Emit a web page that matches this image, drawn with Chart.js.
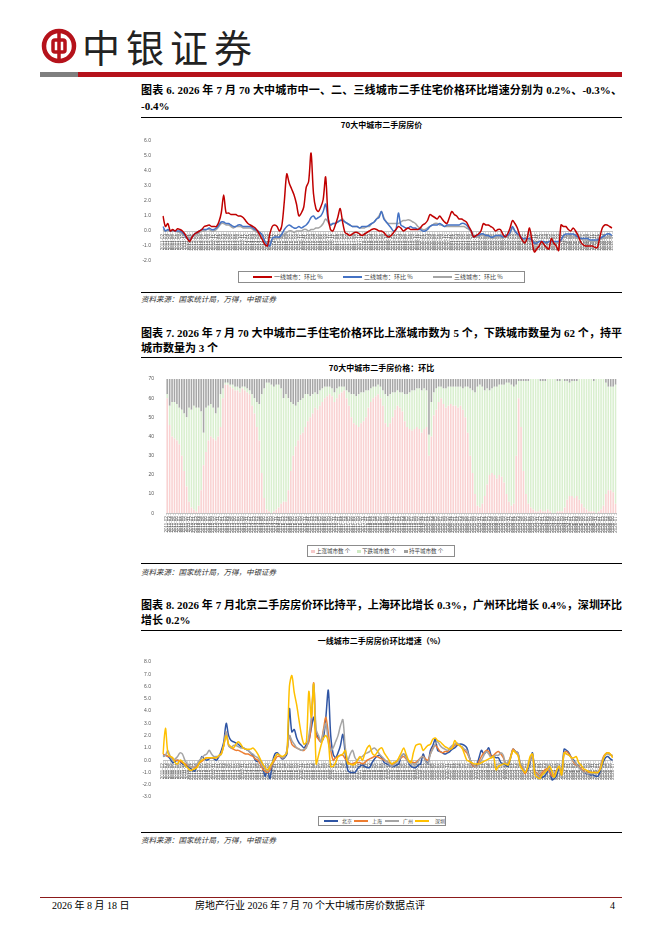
<!DOCTYPE html>
<html>
<head>
<meta charset="utf-8">
<script src="https://cdn.jsdelivr.net/npm/chart.js@4.4.1/dist/chart.umd.min.js"></script>
<style>
  body { margin: 0; width: 662px; height: 936px; background: #fff; position: relative; overflow: hidden;
         font-family: "Liberation Serif", "Noto Sans CJK SC", serif; color: #000; }
  .abs { position: absolute; }
  .ttl { position: absolute; left: 141px; width: 481px; font-size: 11px; font-weight: bold; line-height: 14px; white-space: nowrap; }
  .just { text-align: justify; text-align-last: justify; }
  .rule { position: absolute; left: 141px; width: 481px; height: 1px; background: #000; }
  .ctitle { position: absolute; left: 141px; width: 481px; text-align: center; font-family: "Noto Sans CJK SC"; font-weight: bold; font-size: 8px; line-height: 10px; }
  .src { position: absolute; left: 141px; font-family: "Noto Sans CJK SC"; font-size: 7.5px; line-height: 9px; font-style: italic; color: #333; }
  .lg { position: absolute; border: 1px solid #8c8c8c; box-sizing: border-box; font-family: "Noto Sans CJK SC"; color: #404040; white-space: nowrap; }
  .lg span { position: absolute; top: 0; }
  .lg .key { position: absolute; display: block; }
  canvas { position: absolute; }
</style>
</head>
<body>

<svg class="abs" style="left:39px;top:26px" width="40" height="40" viewBox="0 0 40 40">
  <circle cx="20" cy="20" r="15" fill="none" stroke="#b5121b" stroke-width="4.5"/>
  <rect x="14" y="14" width="12" height="12" rx="2" fill="none" stroke="#b5121b" stroke-width="3.5"/>
  <line x1="20" y1="4" x2="20" y2="36" stroke="#b5121b" stroke-width="3.5"/>
</svg>
<div class="abs" style="left:82px;top:25px;font-family:'Noto Sans CJK SC';font-size:38px;line-height:42px;letter-spacing:6px;color:#222">中银证券</div>
<div class="abs" style="left:40px;top:72px;width:38px;height:5px;background:#7f7f7f"></div>
<div class="abs" style="left:78px;top:72px;width:544px;height:5px;background:#b5121b"></div>

<!-- figure 6 -->
<div class="ttl just" style="top:83px">图表 6. 2026 年 7 月 70 大中城市中一、二、三线城市二手住宅价格环比增速分别为 0.2%、-0.3%、</div>
<div class="ttl" style="top:99px">-0.4%</div>
<div class="rule" style="top:117px"></div>
<div class="ctitle" style="top:120px">70大中城市二手房房价</div>
<canvas id="tierChart" width="481" height="134" style="left:141px;top:134px;width:481px;height:134px"></canvas>
<div class="lg" style="left:238px;top:271px;width:287px;height:12px;font-size:6px;line-height:10px">
  <div class="key" style="left:14px;top:4px;width:19px;height:2px;background:#c00000"></div><span style="left:35px">一线城市：环比 %</span>
  <div class="key" style="left:104px;top:4px;width:19px;height:2px;background:#4472c4"></div><span style="left:125px">二线城市：环比 %</span>
  <div class="key" style="left:194px;top:4px;width:19px;height:2px;background:#a5a5a5"></div><span style="left:215px">三线城市：环比 %</span>
</div>
<div class="rule" style="top:292px"></div>
<div class="src" style="top:294px">资料来源：国家统计局，万得，中银证券</div>

<!-- figure 7 -->
<div class="ttl just" style="top:326px">图表 7. 2026 年 7 月 70 大中城市二手住宅价格环比上涨城市数为 5 个，下跌城市数量为 62 个，持平</div>
<div class="ttl" style="top:341px">城市数量为 3 个</div>
<div class="rule" style="top:357px"></div>
<div class="ctitle" style="top:363px">70大中城市二手房价格：环比</div>
<canvas id="countChart" width="481" height="166" style="left:141px;top:372px;width:481px;height:166px"></canvas>
<div class="lg" style="left:307px;top:545px;width:148px;height:12px;font-size:5.5px;line-height:10px">
  <div class="key" style="left:3px;top:3.5px;width:3.5px;height:3.5px;background:#f7c9c9"></div><span style="left:8px">上涨城市数 个</span>
  <div class="key" style="left:49px;top:3.5px;width:3.5px;height:3.5px;background:#cfeac4"></div><span style="left:54px">下跌城市数 个</span>
  <div class="key" style="left:96px;top:3.5px;width:3.5px;height:3.5px;background:#9f9f9f"></div><span style="left:101px">持平城市数 个</span>
</div>
<div class="rule" style="top:563px"></div>
<div class="src" style="top:567px">资料来源：国家统计局，万得，中银证券</div>

<!-- figure 8 -->
<div class="ttl just" style="top:598px">图表 8. 2026 年 7 月北京二手房房价环比持平，上海环比增长 0.3%，广州环比增长 0.4%，深圳环比</div>
<div class="ttl" style="top:613px">增长 0.2%</div>
<div class="rule" style="top:630px"></div>
<div class="ctitle" style="top:636px">一线城市二手房房价环比增速（%）</div>
<canvas id="cityChart" width="481" height="149" style="left:141px;top:655px;width:481px;height:149px"></canvas>
<div class="lg" style="left:318px;top:816px;width:128px;height:10px;font-size:5px;line-height:8px">
  <div class="key" style="left:5px;top:3px;width:14px;height:1.8px;background:#2f55a4"></div><span style="left:23px">北京</span>
  <div class="key" style="left:35px;top:3px;width:14px;height:1.8px;background:#ed7d31"></div><span style="left:53px">上海</span>
  <div class="key" style="left:66px;top:3px;width:14px;height:1.8px;background:#a5a5a5"></div><span style="left:84px">广州</span>
  <div class="key" style="left:96px;top:3px;width:14px;height:1.8px;background:#ffc000"></div><span style="left:116px">深圳</span>
</div>
<div class="rule" style="top:832px"></div>
<div class="src" style="top:835px">资料来源：国家统计局，万得，中银证券</div>

<!-- footer -->
<div class="abs" style="left:40px;top:897px;width:582px;height:1px;background:#8b1a1a"></div>
<div class="abs" style="left:52px;top:899px;font-size:10px;line-height:14px">2026 年 8 月 18 日</div>
<div class="abs" style="left:195px;top:899px;font-size:10px;line-height:14px">房地产行业 2026 年 7 月 70 个大中城市房价数据点评</div>
<div class="abs" style="left:610px;top:899px;font-size:10px;line-height:14px">4</div>

<script>
// monthly categories, 2011-02 .. 2026-07
const startYear = 2011, startMonth = 2, monthCount = 186;
const months = [];
for (let i = 0; i < monthCount; i++) {
  const k = startMonth - 1 + i;
  const y = startYear + Math.floor(k / 12);
  const m = (k % 12) + 1;
  months.push(y + '-' + (m < 10 ? '0' + m : m));
}

// figure 6: 70 cities, tier 1/2/3 second-hand price, m-o-m %
const tier1 = [
  1.0, 0.3, 0.5, 0.0, 0.1, 0.0, 0.15, 0.1, 0.0, -0.2, -0.5,
  -0.7, -0.4, -0.2, -0.1, 0.0, 0.1, 0.3, 0.35, 0.4, 0.3, 0.3, 0.3,
  0.6, 1.2, 2.4, 1.2, 1.2, 1.1, 1.1, 1.1, 1.0, 1.0, 0.9, 0.7,
  0.5, 0.4, 0.3, 0.2, 0.0, -0.3, -0.6, -0.9, -1.0, -0.2, 0.3, 0.4,
  0.3, 0.0, 0.4, 2.0, 3.8, 3.2, 2.8, 2.4, 1.8, 1.0, 1.2, 1.6,
  2.9, 3.3, 5.2, 2.5, 1.5, 1.3, 1.6, 2.1, 3.6, 1.0, 0.1, 0.0,
  0.4, 0.9, 1.5, 0.6, -0.1, -0.2, -0.3, -0.2, -0.1, -0.1, -0.2, -0.3,
  -0.2, -0.1, 0.0, 0.1, 0.15, 0.1, 0.0, 0.0, -0.1, -0.3, -0.4, -0.3,
  -0.1, 0.1, 0.3, 0.2, 0.0, 0.1, 0.2, 0.1, 0.1, 0.1, 0.1, 0.2,
  0.4, 0.5, 0.7, 1.1, 1.0, 0.9, 0.8, 1.0, 0.8, 0.6, 0.5, 0.9,
  1.3, 1.1, 1.0, 0.8, 0.8, 0.7, 0.6, 0.3, 0.0, -0.4, -0.3, -0.2,
  0.0, 0.5, 0.4, 0.4, 0.3, 0.2, 0.0, 0.1, 0.1, -0.2, -0.4, -0.2,
  0.2, 0.7, 0.5, 0.2, -0.3, -0.6, -0.8, -0.5, 0.2, -0.6, -1.4, -1.2,
  -1.0, -0.7, -0.9, -1.1, -1.2, -0.5, -0.8, -1.0, -1.3, 0.4, 0.3, 0.3,
  0.1, 0.0, 0.2, 0.0, -0.3, -0.7, -0.9, -1.0, -1.0, -1.0, -1.0, -1.1,
  -1.1, -0.4, 0.2, 0.4, 0.4, 0.3, 0.2
];
const tier2 = [
  0.3, 0.0, 0.1, 0.0, 0.05, 0.0, 0.0, 0.0, -0.1, -0.3, -0.5,
  -0.6, -0.4, -0.2, -0.1, 0.0, 0.1, 0.1, 0.1, 0.2, 0.1, 0.1, 0.2,
  0.4, 0.6, 0.6, 0.5, 0.5, 0.4, 0.3, 0.3, 0.4, 0.4, 0.3, 0.3,
  0.3, 0.3, 0.2, 0.1, 0.0, -0.1, -0.3, -0.7, -0.9, -1.0, -0.5, -0.4,
  -0.4, -0.4, -0.2, 0.1, 0.3, 0.4, 0.3, 0.2, 0.2, 0.3, 0.2, 0.3,
  0.4, 0.6, 0.9, 1.0, 0.8, 0.9, 1.0, 1.3, 1.8, 0.8, 0.4, 0.5,
  0.5, 0.6, 0.7, 0.7, 0.6, 0.5, 0.4, 0.3, 0.3, 0.3, 0.2, 0.3,
  0.3, 0.3, 0.4, 0.5, 0.6, 0.8, 0.9, 1.3, 0.8, 0.6, 0.4, 0.2,
  0.0, 0.1, 1.2, 0.4, 0.3, 0.2, 0.2, 0.3, 0.2, 0.2, 0.1, 0.1,
  0.0, 0.0, 0.1, 0.3, 0.4, 0.4, 0.4, 0.5, 0.4, 0.3, 0.4, 0.4,
  0.4, 0.4, 0.4, 0.4, 0.5, 0.5, 0.4, 0.2, 0.0, -0.4, -0.3, -0.3,
  -0.2, -0.2, -0.3, -0.3, -0.4, -0.4, -0.3, -0.3, -0.3, -0.4, -0.3, -0.3,
  -0.1, 0.3, 0.0, -0.2, -0.3, -0.5, -0.5, -0.5, -0.5, -0.6, -0.8, -0.8,
  -0.7, -0.7, -0.7, -0.8, -0.7, -0.7, -0.7, -0.7, -0.7, -0.6, -0.3, -0.2,
  -0.2, -0.2, -0.2, -0.3, -0.4, -0.5, -0.5, -0.5, -0.5, -0.6, -0.6, -0.6,
  -0.6, -0.5, -0.4, -0.3, -0.2, -0.2, -0.3
];
const tier3 = [
  0.1, 0.0, 0.05, 0.0, 0.0, 0.0, -0.05, -0.1, -0.2, -0.3, -0.4,
  -0.5, -0.4, -0.3, -0.2, -0.1, 0.0, 0.0, 0.1, 0.1, 0.0, 0.0, 0.1,
  0.3, 0.5, 0.5, 0.4, 0.4, 0.3, 0.2, 0.3, 0.3, 0.3, 0.2, 0.2,
  0.2, 0.2, 0.1, 0.0, -0.1, -0.2, -0.4, -0.7, -0.9, -0.9, -0.6, -0.5,
  -0.5, -0.5, -0.4, -0.2, -0.1, 0.0, 0.0, -0.1, 0.0, 0.0, 0.0, 0.1,
  0.1, 0.0, 0.1, 0.1, 0.2, 0.2, 0.3, 0.5, 0.8, 0.6, 0.4, 0.5,
  0.5, 0.6, 0.7, 0.8, 0.6, 0.5, 0.4, 0.3, 0.3, 0.3, 0.2, 0.2,
  0.2, 0.3, 0.3, 0.5, 0.6, 0.8, 1.0, 1.3, 0.9, 0.6, 0.5, 0.5,
  0.5, 0.5, 0.5, 0.6, 0.7, 0.7, 0.75, 0.7, 0.6, 0.5, 0.3, 0.2,
  0.1, 0.1, 0.2, 0.3, 0.4, 0.5, 0.5, 0.4, 0.4, 0.3, 0.3, 0.3,
  0.3, 0.3, 0.3, 0.3, 0.3, 0.3, 0.2, 0.1, -0.1, -0.4, -0.4, -0.4,
  -0.3, -0.3, -0.4, -0.4, -0.4, -0.5, -0.4, -0.4, -0.4, -0.5, -0.4, -0.4,
  -0.2, 0.2, 0.0, -0.2, -0.4, -0.5, -0.6, -0.6, -0.6, -0.6, -0.8, -0.8,
  -0.7, -0.7, -0.8, -0.8, -0.7, -0.7, -0.8, -0.8, -0.7, -0.6, -0.4, -0.4,
  -0.3, -0.4, -0.4, -0.4, -0.5, -0.5, -0.6, -0.6, -0.6, -0.7, -0.7, -0.7,
  -0.7, -0.6, -0.5, -0.5, -0.4, -0.4, -0.4
];

// figure 7: number of cities rising / falling / flat
const upCount = [
  60, 46, 40, 39, 38, 36, 30, 22, 14, 6, 3,
  2, 1, 4, 12, 25, 32, 38, 40, 39, 38, 40, 45,
  60, 67, 67, 66, 65, 64, 64, 63, 65, 64, 63, 62,
  56, 52, 45, 38, 21, 8, 2, 1, 0, 1, 2, 3,
  5, 6, 6, 12, 22, 30, 35, 38, 41, 42, 45, 48,
  50, 52, 55, 54, 56, 58, 60, 61, 62, 61, 58, 60,
  62, 63, 64, 60, 56, 50, 47, 46, 45, 47, 48, 50,
  55, 58, 60, 61, 62, 60, 56, 47, 45, 47, 50, 54,
  56, 55, 53, 48, 45, 44, 43, 44, 45, 44, 42, 44,
  45, 30, 40, 51, 54, 58, 60, 57, 55, 56, 57, 56,
  56, 55, 56, 54, 50, 42, 30, 21, 10, 4, 3, 5,
  9, 15, 20, 21, 20, 18, 20, 19, 16, 10, 6, 4,
  5, 30, 60, 45, 22, 10, 5, 3, 2, 1, 1, 2,
  1, 1, 2, 1, 0, 0, 1, 1, 1, 3, 7, 9,
  9, 8, 9, 7, 5, 3, 2, 1, 1, 1, 0, 1,
  2, 4, 10, 12, 12, 11, 5
];
const downCount = [
  2, 10, 18, 19, 19, 19, 24, 30, 36, 49, 51,
  54, 54, 51, 41, 17, 23, 18, 17, 16, 14, 15, 17,
  5, 1, 1, 1, 2, 2, 2, 2, 1, 2, 2, 2,
  6, 8, 13, 19, 41, 57, 66, 67, 67, 65, 65, 64,
  60, 54, 56, 48, 36, 27, 21, 20, 18, 18, 17, 14,
  11, 10, 8, 8, 8, 7, 6, 5, 4, 4, 5, 5,
  4, 3, 2, 4, 7, 12, 15, 15, 17, 16, 15, 14,
  9, 7, 6, 5, 5, 6, 8, 15, 16, 15, 13, 9,
  8, 8, 10, 14, 17, 19, 21, 20, 20, 21, 22, 21,
  19, 11, 18, 12, 11, 8, 6, 8, 10, 10, 9, 10,
  10, 11, 10, 11, 16, 24, 35, 43, 53, 62, 64, 61,
  55, 50, 44, 44, 46, 48, 47, 48, 51, 58, 62, 63,
  61, 37, 9, 24, 47, 59, 64, 67, 68, 69, 69, 67,
  68, 68, 68, 69, 70, 70, 68, 68, 69, 66, 62, 59,
  60, 61, 60, 63, 65, 67, 68, 69, 69, 68, 70, 69,
  68, 66, 58, 54, 54, 55, 62
];
const flatCount = [
  8, 14, 12, 12, 13, 15, 16, 18, 20, 15, 16,
  14, 15, 15, 17, 28, 15, 14, 13, 15, 18, 15, 8,
  5, 2, 2, 3, 3, 4, 4, 5, 4, 4, 5, 6,
  8, 10, 12, 13, 8, 5, 2, 2, 3, 4, 3, 3,
  5, 10, 8, 10, 12, 13, 14, 12, 11, 10, 8, 8,
  9, 8, 7, 8, 6, 5, 4, 4, 4, 5, 7, 5,
  4, 4, 4, 6, 7, 8, 8, 9, 8, 7, 7, 6,
  6, 5, 4, 4, 3, 4, 6, 8, 9, 8, 7, 7,
  6, 7, 7, 8, 8, 7, 6, 6, 5, 5, 6, 5,
  6, 29, 12, 7, 5, 4, 4, 5, 5, 4, 4, 4,
  4, 4, 4, 5, 4, 4, 5, 6, 7, 4, 3, 4,
  6, 5, 6, 5, 4, 4, 3, 3, 3, 2, 2, 3,
  4, 3, 1, 1, 1, 1, 1, 0, 0, 0, 0, 1,
  1, 1, 0, 0, 0, 0, 1, 1, 0, 1, 1, 2,
  1, 1, 1, 0, 0, 0, 0, 0, 0, 1, 0, 0,
  0, 0, 2, 4, 4, 4, 3
];

// figure 8: first-tier cities, m-o-m %
const beijing = [
  0.3, 0.4, 0.3, 0.1, -0.2, -0.1, 0.0, -0.1, -0.3, -0.4, -0.5,
  -0.6, -0.8, -0.9, -0.5, -0.2, 0.3, 0.1, 0.0, 0.1, 0.2, 0.1, 0.0,
  0.3, 0.8, 1.5, 3.0, 2.0, 1.6, 1.5, 1.4, 1.3, 1.1, 1.0, 0.9,
  0.8, 0.6, 0.4, 0.0, -0.1, 0.0, -0.5, -1.3, -0.8, -1.5, -0.2, 0.5,
  0.6, 0.4, 0.1, 0.2, 0.5, 4.2, 2.3, 2.5, 1.8, 1.4, 1.2, 1.0,
  1.3, 1.6, 2.6, 3.5, 2.2, 1.8, 1.5, 1.8, 3.5, 5.7, 2.0, 0.5,
  0.2, 0.6, 1.2, 2.1, 0.5, -0.8, -1.0, -1.0, -1.0, -0.7, -0.5, -0.4,
  -0.5, -0.6, -0.6, -0.2, 0.1, 0.3, 0.4, 0.2, -0.2, -0.3, -0.4, -0.5,
  -0.5, -0.4, -0.3, 0.3, 0.5, 0.3, -0.2, -0.5, -0.6, -0.6, -0.4, -0.3,
  0.5, 0.0, -0.3, 0.8, 1.2, 1.7, 0.8, 0.7, 0.6, 0.5, 0.6, 0.7,
  0.9, 1.0, 1.2, 1.3, 1.3, 1.2, 1.0, 0.3, -0.3, -0.5, -0.4, 0.2,
  0.8, 0.5, 0.7, 1.0, 0.4, 0.3, 0.2, 0.2, -0.2, -0.3, -0.4, -0.5,
  0.2, 0.9, 0.7, 0.6, -0.4, -0.7, -1.0, -0.8, -0.2, 0.6, -0.9, -1.2,
  -1.4, -1.4, -1.3, -1.0, -0.6, -1.6, -1.5, -1.2, -0.6, -1.2, 0.9, 0.8,
  0.6, 0.2, 0.0, -0.3, -0.5, -0.8, -0.9, -1.1, -1.1, -1.2, -1.2, -1.3,
  -1.3, -0.8, -0.2, 0.2, 0.3, 0.1, 0.0
];
const shanghai = [
  0.5, 0.4, 0.3, 0.3, 0.1, 0.0, 0.0, -0.1, -0.2, -0.3, -0.4,
  -0.5, -0.6, -0.6, -0.5, -0.2, -0.1, 0.1, 0.2, 0.2, 0.2, 0.2, 0.2,
  0.3, 0.6, 1.2, 2.3, 1.2, 1.0, 0.9, 0.8, 0.8, 0.7, 0.6, 0.5,
  0.5, 0.4, 0.3, 0.1, 0.0, -0.3, -0.7, -0.9, -1.0, -0.8, -0.3, 0.0,
  0.3, 0.3, 0.2, 0.3, 0.8, 2.0, 1.3, 1.1, 1.0, 0.9, 0.8, 0.8,
  1.1, 1.5, 3.0, 6.3, 2.0, 1.7, 1.5, 2.5, 3.5, 2.2, 0.8, 0.0,
  0.2, 0.3, 0.4, 0.4, 0.1, -0.1, -0.3, -0.3, -0.2, -0.2, -0.2, -0.3,
  -0.2, 0.0, 0.1, 0.2, 0.3, 0.3, 0.2, 0.1, 0.0, -0.1, -0.2, -0.3,
  -0.3, -0.1, 0.0, 0.2, 0.3, 0.1, -0.1, -0.1, -0.2, -0.2, 0.0, 0.2,
  0.3, 0.1, 0.0, 0.5, 1.0, 1.2, 1.0, 0.7, 0.6, 0.7, 0.7, 0.9,
  1.0, 1.2, 1.3, 1.2, 1.0, 0.8, 0.6, 0.2, -0.3, -0.5, -0.5, -0.1,
  0.3, 0.6, 0.8, 0.7, 0.3, 0.4, 0.6, 0.7, 0.5, 0.2, -0.3, -0.2,
  0.3, 0.9, 0.7, 0.5, -0.3, -0.7, -1.1, -0.6, 0.0, 0.4, -0.9, -1.1,
  -1.3, -1.0, -0.8, -0.7, -0.9, -1.3, -1.2, -0.8, -0.6, -1.2, 0.6, 0.7,
  0.5, 0.2, -0.2, -0.4, -0.5, -0.7, -0.9, -1.0, -1.0, -1.0, -1.0, -1.0,
  -1.0, -0.5, 0.2, 0.5, 0.6, 0.5, 0.3
];
const guangzhou = [
  0.3, 0.4, 0.8, 0.3, 0.0, 0.1, 0.3, 0.6, 0.5, 0.0, -0.3,
  -0.5, -0.6, -0.5, -0.3, 0.0, 0.2, 0.4, 0.5, 0.8, 0.5, 0.3, 0.3,
  0.3, 0.5, 1.2, 2.3, 1.2, 1.0, 1.2, 1.2, 1.1, 1.0, 1.0, 0.9,
  0.8, 0.6, 0.5, 0.3, 0.2, -0.1, -0.5, -0.7, -0.9, -0.6, -0.2, 0.2,
  0.5, 0.4, 0.2, 0.3, 0.8, 2.0, 1.6, 1.3, 1.0, 0.9, 0.8, 0.9,
  1.0, 2.0, 3.5, 6.2, 2.5, 2.0, 1.5, 2.3, 3.0, 1.5, 0.8, 1.0,
  1.5, 2.0, 2.8, 3.3, 1.0, 0.0, 0.5, 0.8, 0.2, 0.0, 0.2, 0.3,
  0.5, 0.6, 0.7, 0.9, 1.0, 0.8, 0.5, 0.3, 0.1, -0.1, -0.3, -0.5,
  -0.4, -0.2, 0.0, 0.3, 0.5, 0.2, -0.2, -0.3, -0.3, -0.3, -0.1, 0.2,
  0.3, -0.1, -0.3, 0.5, 0.9, 1.3, 1.5, 1.2, 1.0, 0.9, 0.8, 1.0,
  1.2, 1.3, 1.4, 1.2, 1.1, 0.9, 0.8, 0.2, -0.2, -0.4, -0.6, -0.3,
  0.0, 0.4, 0.7, 0.5, 0.2, 0.3, 0.4, 0.4, 0.6, 0.4, -0.3, -0.1,
  0.2, 0.8, 0.7, 0.6, -0.2, -0.5, -0.9, -0.6, 0.0, 0.5, -1.0, -1.2,
  -1.4, -1.2, -1.0, -0.8, -0.7, -1.0, -1.3, -0.9, -0.5, -1.3, 0.6, 0.5,
  0.4, 0.2, -0.1, -0.3, -0.6, -0.8, -1.0, -1.0, -1.1, -1.1, -1.1, -1.0,
  -1.0, -0.6, 0.1, 0.4, 0.5, 0.4, 0.4
];
const shenzhen = [
  0.5, 2.6, 0.6, 0.3, 0.2, -0.2, -0.3, 0.0, -0.1, -0.4, -0.6,
  -0.8, -0.8, -0.7, -0.6, -0.2, 0.0, 0.1, 0.2, 0.2, 0.2, 0.2, 0.2,
  0.4, 0.5, 1.2, 2.0, 1.3, 1.1, 1.0, 1.3, 1.5, 1.3, 1.0, 0.9,
  0.9, 0.9, 1.0, 0.8, 0.5, 0.1, -0.3, -0.6, -0.8, -0.5, -0.2, 0.2,
  0.5, 0.4, 0.3, 0.4, 0.6, 6.0, 6.9, 5.5, 4.5, 3.2, 2.0, 1.3,
  1.5, 5.6, 3.5, 6.2, -0.3, 0.4, 1.2, 1.8, 2.0, 1.5, -0.5, -0.5,
  -0.2, 0.3, 0.4, 0.5, 0.8, -0.3, -0.3, -0.4, -0.3, 0.0, 0.3, 0.0,
  0.5, 1.0, 1.2, 0.6, 0.4, 0.6, 0.9, 1.0, 0.6, 0.3, 0.0, -0.3,
  -0.2, -0.1, 0.2, 0.6, 1.0, 0.5, 0.0, -0.2, 0.6, 1.2, 1.3, 1.3,
  0.8, 1.0, 1.2, 1.3, 1.7, 1.8, 1.6, 1.5, 1.3, 1.1, 1.0, 0.9,
  1.0, 1.6, 1.3, 1.2, 1.0, 0.5, 0.0, -0.1, -0.2, -0.3, -0.3, -0.3,
  -0.2, -0.1, 0.0, 0.1, 0.2, 0.3, -0.8, -0.5, -0.4, -0.3, -0.3, -0.4,
  0.2, 0.8, 0.6, 0.4, -0.5, -0.8, -1.0, -0.6, 0.3, 0.5, -1.2, -1.4,
  -1.5, -1.2, -1.0, -0.8, -0.5, -0.9, -1.4, -0.8, -0.5, -1.2, 0.6, 0.5,
  0.4, 0.2, 0.2, 0.3, -0.2, -0.4, -0.7, -0.8, -0.9, -1.0, -1.0, -1.0,
  -1.0, -0.7, 0.0, 0.5, 0.6, 0.5, 0.2
];

Chart.defaults.font.family = '"Liberation Sans", "Noto Sans CJK SC", sans-serif';
Chart.defaults.animation = false;

const monthTicks = {
  autoSkip: false, minRotation: 90, maxRotation: 90, padding: 1,
  color: '#666666', font: { size: 4.5 }
};
const noPlugins = { legend: { display: false }, title: { display: false }, tooltip: { enabled: false } };

function lineSet(label, data, color, order) {
  return {
    label: label, data: data, borderColor: color, backgroundColor: color,
    borderWidth: 1.5, pointRadius: 0, tension: 0.3, order: order
  };
}

new Chart(document.getElementById('tierChart'), {
  type: 'line',
  data: {
    labels: months,
    datasets: [
      lineSet('一线城市：环比 %', tier1, '#c00000', 1),
      lineSet('二线城市：环比 %', tier2, '#4472c4', 2),
      lineSet('三线城市：环比 %', tier3, '#a5a5a5', 3)
    ]
  },
  options: {
    responsive: false,
    layout: { padding: { left: 0, right: 10, top: 6, bottom: 6 } },
    plugins: noPlugins,
    scales: {
      x: {
        position: { y: 0 }, offset: false,
        grid: { display: true, drawOnChartArea: false, tickLength: 2, color: '#d9d9d9' },
        border: { color: '#bfbfbf' },
        ticks: monthTicks,
        afterFit: (s) => { s.height = 0; }
      },
      y: {
        min: -2, max: 6,
        ticks: { stepSize: 1, padding: 4, color: '#595959', font: { size: 5 }, callback: (v) => v.toFixed(1) },
        grid: { display: false }, border: { display: false },
        afterFit: (s) => { s.width = 22; }
      }
    }
  }
});

new Chart(document.getElementById('countChart'), {
  type: 'bar',
  data: {
    labels: months,
    datasets: [
      { label: '上涨城市数 个', data: upCount, backgroundColor: '#f9d2d2', barPercentage: 0.65, categoryPercentage: 1 },
      { label: '下跌城市数 个', data: downCount, backgroundColor: '#d9efcf', barPercentage: 0.65, categoryPercentage: 1 },
      { label: '持平城市数 个', data: flatCount, backgroundColor: '#a6a6a6', barPercentage: 0.65, categoryPercentage: 1 }
    ]
  },
  options: {
    responsive: false,
    layout: { padding: { left: 0, right: 4, top: 6, bottom: 0 } },
    plugins: noPlugins,
    scales: {
      x: {
        stacked: true,
        grid: { display: true, drawOnChartArea: false, tickLength: 2, color: '#d9d9d9', offset: true },
        border: { color: '#bfbfbf' },
        ticks: monthTicks,
        afterFit: (s) => { s.height = 24.7; }
      },
      y: {
        stacked: true, min: 0, max: 70,
        ticks: { stepSize: 10, padding: 4, color: '#595959', font: { size: 5 } },
        grid: { display: false }, border: { display: false },
        afterFit: (s) => { s.width = 25; }
      }
    }
  }
});

new Chart(document.getElementById('cityChart'), {
  type: 'line',
  data: {
    labels: months,
    datasets: [
      lineSet('北京', beijing, '#2f55a4', 4),
      lineSet('上海', shanghai, '#ed7d31', 3),
      lineSet('广州', guangzhou, '#a5a5a5', 2),
      lineSet('深圳', shenzhen, '#ffc000', 1)
    ]
  },
  options: {
    responsive: false,
    layout: { padding: { left: 0, right: 9.3, top: 5.7, bottom: 5.7 } },
    plugins: noPlugins,
    scales: {
      x: {
        position: { y: 0 }, offset: false,
        grid: { display: true, drawOnChartArea: false, tickLength: 2, color: '#d9d9d9' },
        border: { color: '#bfbfbf' },
        ticks: monthTicks,
        afterFit: (s) => { s.height = 0; }
      },
      y: {
        min: -3, max: 8,
        ticks: { stepSize: 1, padding: 4, color: '#595959', font: { size: 5 }, callback: (v) => v.toFixed(1) },
        grid: { display: false }, border: { display: false },
        afterFit: (s) => { s.width = 22; }
      }
    }
  }
});
</script>
</body>
</html>
